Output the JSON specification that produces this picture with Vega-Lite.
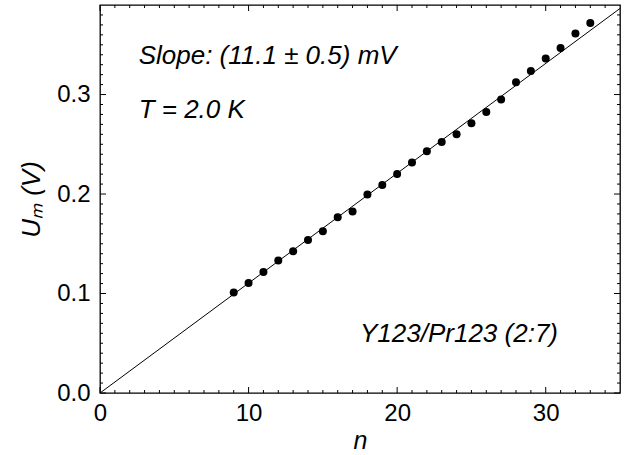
{
  "$schema": "https://vega.github.io/schema/vega-lite/v6.json",
  "width": 520,
  "height": 388,
  "autosize": "none",
  "padding": {"left": 100, "top": 5, "right": 8, "bottom": 62},
  "background": "white",
  "datasets": {
    "points": [
      {"n": 9, "U": 0.101}, {"n": 10, "U": 0.1106}, {"n": 11, "U": 0.1216},
      {"n": 12, "U": 0.1331}, {"n": 13, "U": 0.1425}, {"n": 14, "U": 0.1538},
      {"n": 15, "U": 0.1626}, {"n": 16, "U": 0.1766}, {"n": 17, "U": 0.1824},
      {"n": 18, "U": 0.1995}, {"n": 19, "U": 0.2091}, {"n": 20, "U": 0.2202},
      {"n": 21, "U": 0.2316}, {"n": 22, "U": 0.243}, {"n": 23, "U": 0.2523},
      {"n": 24, "U": 0.2601}, {"n": 25, "U": 0.2711}, {"n": 26, "U": 0.2825},
      {"n": 27, "U": 0.295}, {"n": 28, "U": 0.3124}, {"n": 29, "U": 0.3237},
      {"n": 30, "U": 0.3362}, {"n": 31, "U": 0.3468}, {"n": 32, "U": 0.3613},
      {"n": 33, "U": 0.372}
    ],
    "fit": [{"n": 0, "U": 0}, {"n": 35, "U": 0.3865}],
    "notes": [
      {"n": 2.6, "U": 0.3302, "label": "Slope: (11.1 ± 0.5) mV"},
      {"n": 2.6, "U": 0.2765, "label": "T = 2.0 K"},
      {"n": 17.5, "U": 0.0513, "label": "Y123/Pr123 (2:7)"}
    ],
    "xmajor": [{"v": 0}, {"v": 10}, {"v": 20}, {"v": 30}],
    "xminor": [
      {"v": 1}, {"v": 2}, {"v": 3}, {"v": 4}, {"v": 5}, {"v": 6}, {"v": 7}, {"v": 8}, {"v": 9},
      {"v": 11}, {"v": 12}, {"v": 13}, {"v": 14}, {"v": 15}, {"v": 16}, {"v": 17}, {"v": 18}, {"v": 19},
      {"v": 21}, {"v": 22}, {"v": 23}, {"v": 24}, {"v": 25}, {"v": 26}, {"v": 27}, {"v": 28}, {"v": 29},
      {"v": 31}, {"v": 32}, {"v": 33}, {"v": 34}
    ],
    "ymajor": [{"v": 0}, {"v": 0.1}, {"v": 0.2}, {"v": 0.3}],
    "yminor": [
      {"v": 0.01}, {"v": 0.02}, {"v": 0.03}, {"v": 0.04}, {"v": 0.05}, {"v": 0.06}, {"v": 0.07}, {"v": 0.08}, {"v": 0.09},
      {"v": 0.11}, {"v": 0.12}, {"v": 0.13}, {"v": 0.14}, {"v": 0.15}, {"v": 0.16}, {"v": 0.17}, {"v": 0.18}, {"v": 0.19},
      {"v": 0.21}, {"v": 0.22}, {"v": 0.23}, {"v": 0.24}, {"v": 0.25}, {"v": 0.26}, {"v": 0.27}, {"v": 0.28}, {"v": 0.29},
      {"v": 0.31}, {"v": 0.32}, {"v": 0.33}, {"v": 0.34}, {"v": 0.35}, {"v": 0.36}, {"v": 0.37}, {"v": 0.38}
    ]
  },
  "layer": [
    {
      "data": {"name": "fit"},
      "mark": {"type": "line", "color": "black", "strokeWidth": 1, "clip": true},
      "encoding": {
        "x": {
          "field": "n", "type": "quantitative",
          "scale": {"domain": [0, 35], "nice": false, "zero": false},
          "axis": {
            "orient": "bottom",
            "title": "n",
            "titleFontStyle": "italic",
            "titleFontWeight": "normal",
            "titleFont": "Liberation Sans",
            "titleFontSize": 25,
            "titleColor": "black",
            "titlePadding": 3,
            "values": [0, 10, 20, 30],
            "ticks": false,
            "domain": false,
            "grid": false,
            "labelPadding": 8,
            "labelFlush": false,
            "labelOverlap": false,
            "labelBound": false
          }
        },
        "y": {
          "field": "U", "type": "quantitative",
          "scale": {"domain": [0, 0.39], "nice": false, "zero": false},
          "axis": {
            "orient": "left",
            "title": "Uₘ (V)",
            "titleFontStyle": "italic",
            "titleFontWeight": "normal",
            "titleFont": "Liberation Sans",
            "titleFontSize": 26,
            "titleColor": "black",
            "titlePadding": 12,
            "values": [0, 0.1, 0.2, 0.3],
            "format": ".1f",
            "ticks": false,
            "domain": false,
            "grid": false,
            "labelPadding": 10,
            "labelOverlap": false,
            "labelBound": false
          }
        }
      }
    },
    {
      "data": {"name": "points"},
      "mark": {"type": "circle", "size": 64, "color": "black", "opacity": 1},
      "encoding": {
        "x": {"field": "n", "type": "quantitative", "axis": null},
        "y": {"field": "U", "type": "quantitative", "axis": null}
      }
    },
    {
      "data": {"name": "notes"},
      "mark": {"type": "text", "align": "left", "baseline": "alphabetic", "font": "Liberation Sans", "fontSize": 26, "fontStyle": "italic", "color": "black"},
      "encoding": {
        "x": {"field": "n", "type": "quantitative", "axis": null},
        "y": {"field": "U", "type": "quantitative", "axis": null},
        "text": {"field": "label"}
      }
    },
    {
      "data": {"name": "xmajor"},
      "mark": {"type": "tick", "orient": "vertical", "color": "black", "opacity": 1, "thickness": 1, "size": 6, "yOffset": -3},
      "encoding": {
        "x": {"field": "v", "type": "quantitative", "axis": null},
        "y": {"datum": 0, "type": "quantitative", "axis": null}
      }
    },
    {
      "data": {"name": "xminor"},
      "mark": {"type": "tick", "orient": "vertical", "color": "black", "opacity": 1, "thickness": 1, "size": 3, "yOffset": -1.5},
      "encoding": {
        "x": {"field": "v", "type": "quantitative", "axis": null},
        "y": {"datum": 0, "type": "quantitative", "axis": null}
      }
    },
    {
      "data": {"name": "xmajor"},
      "mark": {"type": "tick", "orient": "vertical", "color": "black", "opacity": 1, "thickness": 1, "size": 6, "yOffset": 3},
      "encoding": {
        "x": {"field": "v", "type": "quantitative", "axis": null},
        "y": {"datum": 0.39, "type": "quantitative", "axis": null}
      }
    },
    {
      "data": {"name": "xminor"},
      "mark": {"type": "tick", "orient": "vertical", "color": "black", "opacity": 1, "thickness": 1, "size": 3, "yOffset": 1.5},
      "encoding": {
        "x": {"field": "v", "type": "quantitative", "axis": null},
        "y": {"datum": 0.39, "type": "quantitative", "axis": null}
      }
    },
    {
      "data": {"name": "ymajor"},
      "mark": {"type": "tick", "orient": "horizontal", "color": "black", "opacity": 1, "thickness": 1, "size": 6, "xOffset": 3},
      "encoding": {
        "y": {"field": "v", "type": "quantitative", "axis": null},
        "x": {"datum": 0, "type": "quantitative", "axis": null}
      }
    },
    {
      "data": {"name": "yminor"},
      "mark": {"type": "tick", "orient": "horizontal", "color": "black", "opacity": 1, "thickness": 1, "size": 3, "xOffset": 1.5},
      "encoding": {
        "y": {"field": "v", "type": "quantitative", "axis": null},
        "x": {"datum": 0, "type": "quantitative", "axis": null}
      }
    },
    {
      "data": {"name": "ymajor"},
      "mark": {"type": "tick", "orient": "horizontal", "color": "black", "opacity": 1, "thickness": 1, "size": 6, "xOffset": -3},
      "encoding": {
        "y": {"field": "v", "type": "quantitative", "axis": null},
        "x": {"datum": 35, "type": "quantitative", "axis": null}
      }
    },
    {
      "data": {"name": "yminor"},
      "mark": {"type": "tick", "orient": "horizontal", "color": "black", "opacity": 1, "thickness": 1, "size": 3, "xOffset": -1.5},
      "encoding": {
        "y": {"field": "v", "type": "quantitative", "axis": null},
        "x": {"datum": 35, "type": "quantitative", "axis": null}
      }
    }
  ],
  "resolve": {"axis": {"x": "independent", "y": "independent"}},
  "config": {
    "view": {"stroke": "black", "strokeWidth": 1.3},
    "axis": {
      "labelFont": "Liberation Sans",
      "labelFontSize": 24,
      "labelColor": "black"
    }
  }
}
